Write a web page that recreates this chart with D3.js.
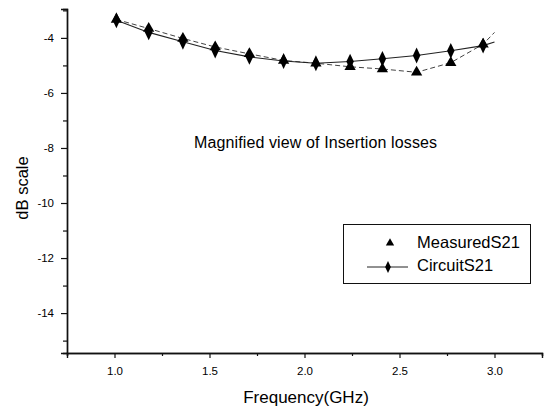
<!DOCTYPE html>
<html><head><meta charset="utf-8">
<script src="https://cdn.jsdelivr.net/npm/d3@7"></script>
<style>body{margin:0;background:#fff}svg{display:block}text{font-family:"Liberation Sans",Arial,sans-serif;fill:#000}</style>
</head><body><svg id="c" width="551" height="411"></svg>
<script>
const freqs = [1.01, 1.18, 1.36, 1.53, 1.71, 1.89, 2.06, 2.24, 2.41, 2.59, 2.77, 2.94];
const measuredS21 = [-3.33, -3.66, -4.02, -4.33, -4.58, -4.82, -4.92, -5.05, -5.13, -5.25, -4.90, -4.23];
const circuitS21 = [-3.36, -3.80, -4.14, -4.46, -4.69, -4.84, -4.92, -4.86, -4.76, -4.64, -4.47, -4.28];
const lineEndFreq = 3.0;
const measuredEnd = -3.80;
const circuitEnd = -4.15;
const xTicks = [1.0, 1.5, 2.0, 2.5, 3.0];
const yTicks = [-4, -6, -8, -10, -12, -14];
const legendLabels = ["MeasuredS21", "CircuitS21"];
const annotation = "Magnified view of Insertion losses";

const svg = d3.select("#c");
const x = d3.scaleLinear().domain([0.75, 3.25]).range([67, 542]);
const y = d3.scaleLinear().domain([-2.95, -15.45]).range([9, 353]);

// axes
svg.append("g").attr("transform", `translate(0,${y(-15.45)})`)
  .call(d3.axisBottom(x).tickValues(xTicks).tickFormat(d3.format(".1f")).tickSize(5).tickPadding(9));
svg.append("g").attr("transform", `translate(0,${y(-15.45)})`)
  .call(d3.axisBottom(x).tickValues([0.75,1.25,1.75,2.25,2.75,3.25]).tickFormat("").tickSize(3));
svg.append("g").attr("transform", `translate(${x(0.75)},0)`)
  .call(d3.axisLeft(y).tickValues(yTicks).tickFormat(d=>d).tickSize(6).tickPadding(7));
svg.append("g").attr("transform", `translate(${x(0.75)},0)`)
  .call(d3.axisLeft(y).tickValues([-3,-5,-7,-9,-11,-13,-15]).tickFormat("").tickSize(4));
svg.selectAll(".domain").attr("stroke","#111").attr("stroke-width",1.4);
svg.selectAll(".tick line").attr("stroke","#111").attr("stroke-width",1.2);
svg.selectAll(".tick text").style("font-size","11.5px").style("font-family","'Liberation Sans',Arial,sans-serif").attr("fill","#000");

// axis titles
svg.append("text").attr("x", 306).attr("y", 403).attr("text-anchor","middle").style("font-size","17px").text("Frequency(GHz)");
svg.append("text").attr("transform","translate(28,188) rotate(-90)").attr("text-anchor","middle").style("font-size","16.5px").text("dB scale");

// annotation
svg.append("text").attr("x", 194).attr("y", 148).attr("textLength",243).style("font-size","16px").text(annotation);

// lines
const line = d3.line().x(d=>x(d[0])).y(d=>y(d[1]));
const mData = freqs.map((f,i)=>[f, measuredS21[i]]).concat([[lineEndFreq, measuredEnd]]);
const cData = freqs.map((f,i)=>[f, circuitS21[i]]).concat([[lineEndFreq, circuitEnd]]);
svg.append("path").datum(mData).attr("d", line).attr("fill","none").attr("stroke","#444").attr("stroke-width",1).attr("stroke-dasharray","5,3");
svg.append("path").datum(cData).attr("d", line).attr("fill","none").attr("stroke","#222").attr("stroke-width",1.1);

const tri = d3.symbol().type(d3.symbolTriangle).size(55);
const dia = d3.symbol().type(d3.symbolDiamond).size(60);
svg.append("g").selectAll("path").data(freqs).join("path")
  .attr("transform",(f,i)=>`translate(${x(f)},${y(measuredS21[i])})`).attr("d", tri).attr("fill","#000");
svg.append("g").selectAll("path").data(freqs).join("path")
  .attr("transform",(f,i)=>`translate(${x(f)},${y(circuitS21[i])}) scale(0.9,1.1)`).attr("d", dia).attr("fill","#000");

// legend
const lg = svg.append("g");
lg.append("rect").attr("x",343.5).attr("y",224.5).attr("width",187).attr("height",59).attr("fill","#fff").attr("stroke","#111").attr("stroke-width",1);
lg.append("path").attr("transform","translate(390,243)").attr("d", d3.symbol().type(d3.symbolTriangle).size(30)).attr("fill","#000");
lg.append("text").attr("x",417).attr("y",248).attr("textLength",103).style("font-size","16.5px").text(legendLabels[0]);
lg.append("line").attr("x1",367).attr("x2",408).attr("y1",267).attr("y2",267).attr("stroke","#222").attr("stroke-width",1);
lg.append("path").attr("transform","translate(388,267) scale(0.9,1.1)").attr("d", d3.symbol().type(d3.symbolDiamond).size(35)).attr("fill","#000");
lg.append("text").attr("x",417).attr("y",271).style("font-size","16.5px").text(legendLabels[1]);
</script></body></html>
